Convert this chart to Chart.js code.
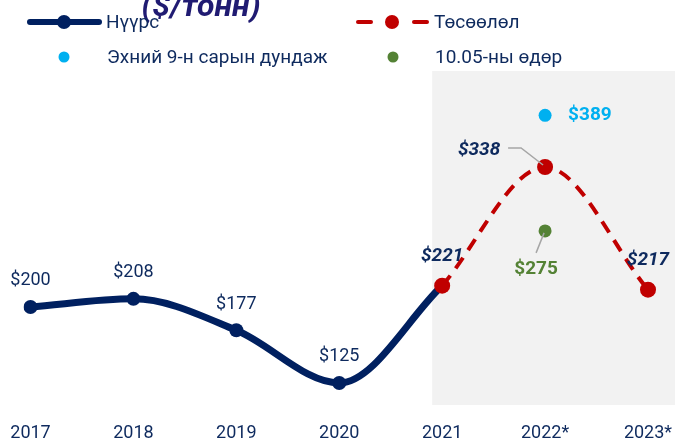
<!DOCTYPE html>
<html>
<head>
<meta charset="utf-8">
<script src="https://cdn.jsdelivr.net/npm/chart.js@4"></script>
<style>
html,body{margin:0;padding:0;background:#fff;}
#wrap{width:675px;height:440px;position:relative;}
</style>
</head>
<body>
<div id="wrap"><canvas id="c" width="675" height="440"></canvas></div>
<script>
const categories = ['2017','2018','2019','2020','2021','2022*','2023*'];
const coal = [200, 208, 177, 125, 221, null, null];
const forecast = [null, null, null, null, 221, 338, 217];
const avg9m = [null, null, null, null, null, 389, null];
const oct05 = [null, null, null, null, null, 275, null];
const seriesNames = ['Нүүрс', 'Төсөөлөл', 'Эхний 9-н сарын дундаж', '10.05-ны өдөр'];
const titleText = '($/тонн)';

const NAVY = '#002060', RED = '#c00000', CYAN = '#00b0f0', GREEN = '#548235', TXT = '#0e2a5e';
const F = 'Roboto, "Noto Sans", sans-serif';

const bandPlugin = {
  id: 'band',
  beforeDatasetsDraw(chart) {
    const {ctx, chartArea, scales: {x}} = chart;
    const left = x.getPixelForValue(4) - 10;
    ctx.save();
    ctx.fillStyle = '#f2f2f2';
    ctx.fillRect(left, chartArea.top, chart.width - left, chartArea.bottom - chartArea.top);
    ctx.restore();
  }
};

const labelPlugin = {
  id: 'labels',
  afterDatasetsDraw(chart) {
    const {ctx, scales: {x, y}} = chart;
    ctx.save();
    ctx.textAlign = 'center';
    ctx.textBaseline = 'middle';
    ctx.font = '18px ' + F;
    ctx.fillStyle = TXT;
    for (let i = 0; i < 4; i++) {
      ctx.fillText('$' + coal[i], x.getPixelForValue(i), y.getPixelForValue(coal[i]) - 26);
    }
    ctx.font = 'italic bold 19px ' + F;
    ctx.fillStyle = TXT;
    ctx.fillText('$' + forecast[4], x.getPixelForValue(4), y.getPixelForValue(forecast[4]) - 29);
    ctx.fillText('$' + forecast[6], x.getPixelForValue(6), y.getPixelForValue(forecast[6]) - 29);
    const px = x.getPixelForValue(5), py = y.getPixelForValue(forecast[5]);
    ctx.fillText('$' + forecast[5], px - 66, py - 17);
    ctx.strokeStyle = '#a6a6a6';
    ctx.lineWidth = 1.5;
    ctx.beginPath();
    ctx.moveTo(px - 37, py - 19);
    ctx.lineTo(px - 24, py - 19);
    ctx.lineTo(px - 2, py - 2);
    ctx.stroke();
    ctx.font = 'bold 19px ' + F;
    ctx.fillStyle = CYAN;
    ctx.textAlign = 'left';
    ctx.fillText('$' + avg9m[5], px + 23, y.getPixelForValue(avg9m[5]));
    const gy = y.getPixelForValue(oct05[5]);
    ctx.fillStyle = GREEN;
    ctx.textAlign = 'center';
    ctx.fillText('$' + oct05[5], px - 9, gy + 38);
    ctx.beginPath();
    ctx.moveTo(px - 9, gy + 22);
    ctx.lineTo(px - 1, gy + 2);
    ctx.stroke();
    ctx.restore();
  }
};

const legendPlugin = {
  id: 'customLegend',
  afterDraw(chart) {
    const ctx = chart.ctx;
    ctx.save();
    ctx.font = 'italic bold 32px ' + F;
    ctx.fillStyle = '#201b72';
    ctx.textAlign = 'center';
    ctx.textBaseline = 'alphabetic';
    ctx.fillText(titleText, 201, 16);
    ctx.font = '19px ' + F;
    ctx.textAlign = 'left';
    ctx.textBaseline = 'middle';
    ctx.strokeStyle = NAVY; ctx.lineWidth = 6; ctx.lineCap = 'round';
    ctx.beginPath(); ctx.moveTo(30, 22); ctx.lineTo(99, 22); ctx.stroke();
    ctx.fillStyle = NAVY; ctx.beginPath(); ctx.arc(64, 22, 7, 0, Math.PI * 2); ctx.fill();
    ctx.fillStyle = TXT; ctx.fillText(seriesNames[0], 106, 23);
    ctx.strokeStyle = RED; ctx.lineWidth = 4; ctx.lineCap = 'round';
    ctx.beginPath(); ctx.moveTo(358, 22); ctx.lineTo(371, 22); ctx.stroke();
    ctx.beginPath(); ctx.moveTo(414, 22); ctx.lineTo(427, 22); ctx.stroke();
    ctx.fillStyle = RED; ctx.beginPath(); ctx.arc(392, 22, 7, 0, Math.PI * 2); ctx.fill();
    ctx.fillStyle = TXT; ctx.fillText(seriesNames[1], 434, 23);
    ctx.fillStyle = CYAN; ctx.beginPath(); ctx.arc(64, 57, 5.5, 0, Math.PI * 2); ctx.fill();
    ctx.fillStyle = TXT; ctx.fillText(seriesNames[2], 107, 58);
    ctx.fillStyle = GREEN; ctx.beginPath(); ctx.arc(393, 57, 5.5, 0, Math.PI * 2); ctx.fill();
    ctx.fillStyle = TXT; ctx.fillText(seriesNames[3], 435, 58);
    ctx.restore();
  }
};

new Chart(document.getElementById('c'), {
  type: 'line',
  data: {
    labels: categories,
    datasets: [
      { label: seriesNames[2], data: avg9m, showLine: false, pointRadius: 6.5, pointBackgroundColor: CYAN, pointBorderWidth: 0, order: 1 },
      { label: seriesNames[3], data: oct05, showLine: false, pointRadius: 6.5, pointBackgroundColor: GREEN, pointBorderWidth: 0, order: 2 },
      { label: seriesNames[1], data: forecast, borderColor: RED, borderWidth: 4, borderDash: [13, 9], borderCapStyle: 'butt',
        cubicInterpolationMode: 'monotone', pointRadius: 8, pointBackgroundColor: RED, pointBorderWidth: 0, order: 3 },
      { label: seriesNames[0], data: coal, borderColor: NAVY, borderWidth: 7, cubicInterpolationMode: 'monotone',
        pointRadius: 7, pointBackgroundColor: NAVY, pointBorderWidth: 0, order: 4 }
    ]
  },
  options: {
    responsive: false,
    animation: false,
    spanGaps: false,
    layout: { padding: { left: 30.5, right: 27, top: 71, bottom: -21 } },
    plugins: { legend: { display: false }, tooltip: { enabled: false }, title: { display: false } },
    scales: {
      x: {
        offset: false,
        grid: { display: false, drawTicks: false, tickLength: 0 },
        border: { display: false },
        ticks: { color: TXT, font: { family: F, size: 18, lineHeight: 56 / 18 }, padding: 0, maxRotation: 0, autoSkip: false }
      },
      y: { display: false, min: 103.3, max: 432.7 }
    }
  },
  plugins: [bandPlugin, labelPlugin, legendPlugin]
});
</script>
</body>
</html>
